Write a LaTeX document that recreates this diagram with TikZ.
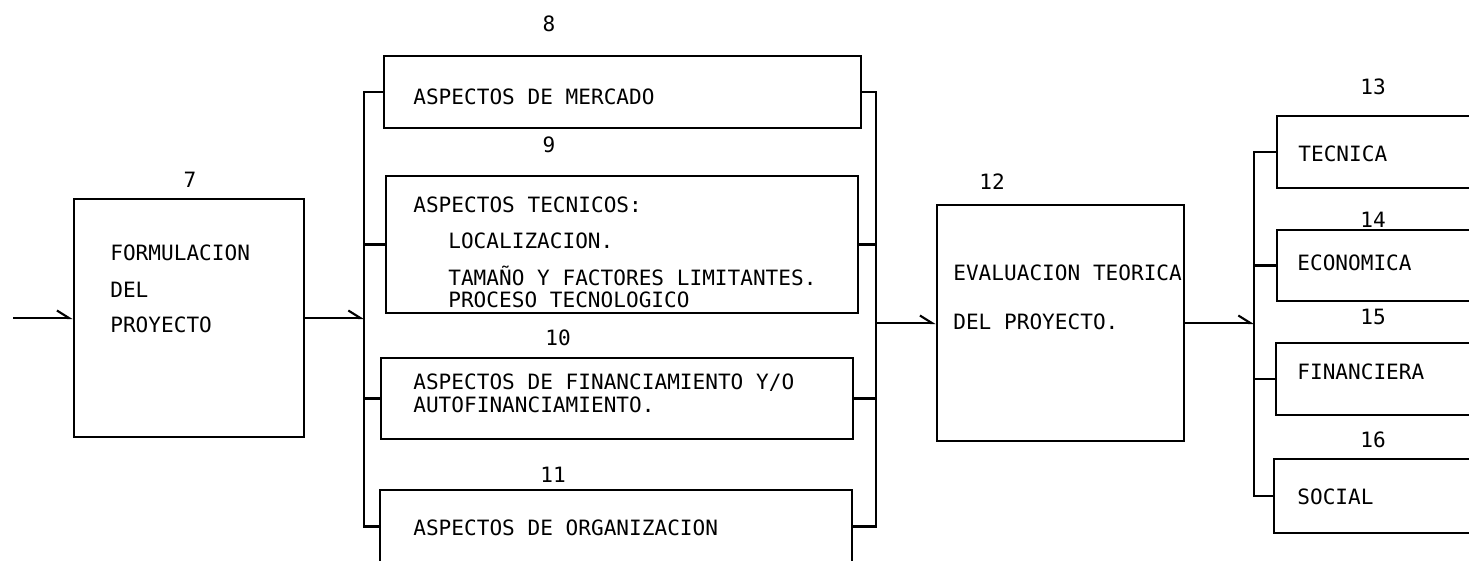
\documentclass[tikz,border=0pt]{standalone}
\usepackage{fontspec}
\setmonofont{DejaVu Sans Mono}
\usetikzlibrary{arrows.meta,fit}

\begin{document}
\begin{tikzpicture}[x=0.2mm, y=-0.2mm,
	caja/.style={draw, line width=1.6pt, inner sep=0pt},
	texto/.style={anchor=west, inner sep=0pt, font=\ttfamily\fontsize{12}{14}\selectfont, text height=8.75pt, text depth=0pt},
	num/.style={inner sep=0pt, font=\ttfamily\fontsize{12}{14}\selectfont},
	linea/.style={line width=1.4pt},
	flecha/.style={line width=1.2pt, -{Straight Barb[left,length=2.4mm,width=3mm]}}]
				\useasboundingbox (0,0) rectangle (1469,561);

				% Formulacion
				\node[caja, fit={(74,199) (304,437)}] (b7) {};
				\node[num] (n7) at (190,180) {7};
				\node[texto] (t7a) at (110,253) {FORMULACION};
				\node[texto] (t7b) at (110,290) {DEL};
				\node[texto] (t7c) at (110,325) {PROYECTO};
				\coordinate (entrada) at (13,318);
				\draw[flecha] (entrada) -- (b7.west);

				% Aspectos
				\node[caja, fit={(384,56) (861,128)}] (b8) {};
				\node[num] (n8) at (549,24) {8};
				\node[texto] (t8) at (413,97) {ASPECTOS DE MERCADO};

				\node[caja, fit={(386,176) (858,313)}] (b9) {};
				\node[num] (n9) at (549,145) {9};
				\node[texto] (t9a) at (413,205) {ASPECTOS TECNICOS:};
				\node[texto] (t9b) at (448,241) {LOCALIZACION.};
				\node[texto] (t9c) at (448,278) {TAMAÑO Y FACTORES LIMITANTES.};
				\node[texto] (t9d) at (448,300) {PROCESO TECNOLOGICO};

				\node[caja, fit={(381,358) (853,439)}] (b10) {};
				\node[num] (n10) at (558,338) {10};
				\node[texto] (t10a) at (413,382) {ASPECTOS DE FINANCIAMIENTO Y/O};
				\node[texto] (t10b) at (413,405) {AUTOFINANCIAMIENTO.};

				\node[caja, fit={(380,490) (852,563)}] (b11) {};
				\node[num] (n11) at (553,475) {11};
				\node[texto] (t11) at (413,528) {ASPECTOS DE ORGANIZACION};

				% Evaluacion
				\node[caja, fit={(937,205) (1184,441)}] (b12) {};
				\node[num] (n12) at (992,182) {12};
				\node[texto] (t12a) at (953,273) {EVALUACION TEORICA};
				\node[texto] (t12b) at (953,322) {DEL PROYECTO.};

				\node[caja, fit={(1277,116) (1490,188)}] (b13) {};
				\node[num] (n13) at (1373,87) {13};
				\node[texto] (t13) at (1298,154) {TECNICA};

				\node[caja, fit={(1277,230) (1490,301)}] (b14) {};
				\node[num] (n14) at (1373,220) {14};
				\node[texto] (t14) at (1297,263) {ECONOMICA};

				\node[caja, fit={(1276,343) (1490,415)}] (b15) {};
				\node[num] (n15) at (1373,317) {15};
				\node[texto] (t15) at (1297,372) {FINANCIERA};

				\node[caja, fit={(1274,459) (1490,533)}] (b16) {};
				\node[num] (n16) at (1373,440) {16};
				\node[texto] (t16) at (1297,497) {SOCIAL};

				% Buses
				\coordinate (busA) at (364,0);
				\coordinate (busB) at (876,0);
				\coordinate (busC) at (1254,0);

				\draw[flecha] (b7.east) -- (b7.east -| busA);
				\draw[linea] (b8.west) -| (busA |- b11.west) -- (b11.west);
				\draw[linea] (b9.west) -- (b9.west -| busA);
				\draw[linea] (b10.west) -- (b10.west -| busA);

				\draw[linea] (b8.east) -| (busB |- b11.east) -- (b11.east);
				\draw[linea] (b9.east) -- (b9.east -| busB);
				\draw[linea] (b10.east) -- (b10.east -| busB);
				\draw[flecha] (busB |- b12.west) -- (b12.west);

				\draw[flecha] (b12.east) -- (b12.east -| busC);
				\draw[linea] (b13.west) -| (busC |- b16.west) -- (b16.west);
				\draw[linea] (b14.west) -- (b14.west -| busC);
				\draw[linea] (b15.west) -- (b15.west -| busC);
\end{tikzpicture}
\end{document}
